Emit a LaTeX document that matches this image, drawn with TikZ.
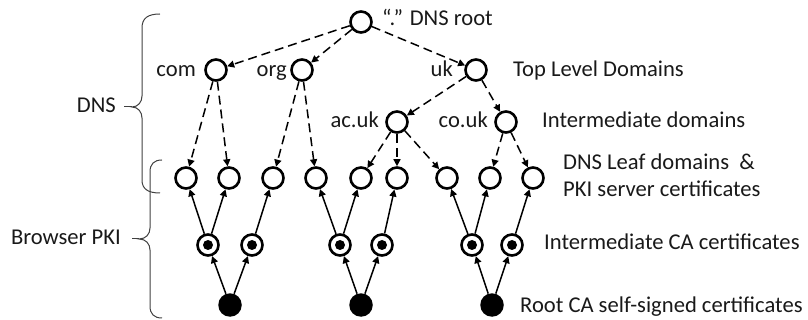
\documentclass[tikz,border=0pt]{standalone}
\usepackage{fontspec}
\setmainfont{Carlito}
\usetikzlibrary{arrows.meta}

\begin{document}
\begin{tikzpicture}[x=1pt,y=-1pt,
  lbl/.style={font=\fontsize{22.6}{26}\selectfont, inner sep=0pt, text=black!90},
  dnode/.style={circle, draw, line width=2.6pt, minimum size=21pt, inner sep=0pt},
  icanode/.style={dnode, path picture={\fill (path picture bounding box.center) circle (5pt);}},
  rootnode/.style={circle, fill, minimum size=23.5pt, inner sep=0pt},
  dnsarrow/.style={-{Triangle[length=7pt,width=7pt]}, line width=1.5pt, dash pattern=on 9pt off 5pt},
  pkiarrow/.style={-{Triangle[length=7pt,width=7pt]}, line width=1.5pt},
  bracepath/.style={line width=1pt, draw=black!75}
]
\useasboundingbox (0,0) rectangle (808,320);

% DNS hierarchy
\node[dnode] (root) at (361,22) {};
\node[dnode] (com) at (216,70) {};
\node[dnode] (org) at (302,70) {};
\node[dnode] (uk) at (476,70) {};
\node[dnode] (acuk) at (397,122) {};
\node[dnode] (couk) at (506,122) {};

% leaf domains / server certificates
\foreach \n/\x in {1/186,2/229,3/273,4/316,5/361,6/397,7/447,8/490,9/533}
  \node[dnode] (l\n) at (\x,178) {};

% intermediate CA certificates
\foreach \n/\x in {1/208,2/252,3/340,4/382,5/472,6/512}
  \node[icanode] (i\n) at (\x,245) {};

% root CA certificates
\foreach \n/\x in {1/230,2/361,3/492}
  \node[rootnode] (r\n) at (\x,305) {};

% DNS delegation
\foreach \a/\b in {root/com,root/org,root/uk,com/l1,com/l2,org/l3,org/l4,
                   uk/acuk,uk/couk,acuk/l5,acuk/l6,acuk/l7,couk/l8,couk/l9}
  \draw[dnsarrow] (\a) -- (\b);

% certificate signing
\foreach \a/\b in {r1/i1,r1/i2,i1/l1,i1/l2,i2/l3,
                   r2/i3,r2/i4,i3/l4,i3/l5,i4/l6,
                   r3/i5,r3/i6,i5/l7,i5/l8,i6/l9}
  \draw[pkiarrow] (\a) -- (\b);

% node labels
\node[lbl, anchor=base west] (troot) at (382,26) {“.” DNS root};
\node[lbl, anchor=base east] (tcom) at (196,77) {com};
\node[lbl, anchor=base east] (torg) at (287,77) {org};
\node[lbl, anchor=base east] (tuk) at (453,77) {uk};
\node[lbl, anchor=base east] (tac) at (379,128) {ac.uk};
\node[lbl, anchor=base east] (tco) at (488,128) {co.uk};

% level descriptions
\node[lbl, anchor=base west] (ttld) at (513,77) {Top Level Domains};
\node[lbl, anchor=base west] (tint) at (542,128) {Intermediate domains};
\node[lbl, anchor=base west] (tleaf) at (563,170) {DNS Leaf domains~~\&};
\node[lbl, anchor=base west] (tpki) at (563,197) {PKI server certificates};
\node[lbl, anchor=base west] (tica) at (544,250) {Intermediate CA certificates};
\node[lbl, anchor=base west] (troots) at (520,312) {Root CA self-signed certificates};

% braces
\draw[bracepath] (160,14) .. controls (148,14) and (142,18) .. (142,28)
  -- (142,96) .. controls (142,102) and (138,107) .. (132,107)
  .. controls (138,107) and (142,112) .. (142,118)
  -- (142,180) .. controls (142,189) and (148,193) .. (160,193);
\draw[bracepath] (124,107) -- (132,107);
\node[lbl, anchor=base east] (tdns) at (116,113) {DNS};

\draw[bracepath] (162,160) .. controls (154,160) and (150,164) .. (150,172)
  -- (150,228) .. controls (150,234) and (146,239) .. (139,239)
  .. controls (146,239) and (150,244) .. (150,250)
  -- (150,306) .. controls (150,314) and (154,318) .. (162,318);
\draw[bracepath] (132,239) -- (139,239);
\node[lbl, anchor=base east] (tpkib) at (121,245) {Browser PKI};
\end{tikzpicture}
\end{document}
